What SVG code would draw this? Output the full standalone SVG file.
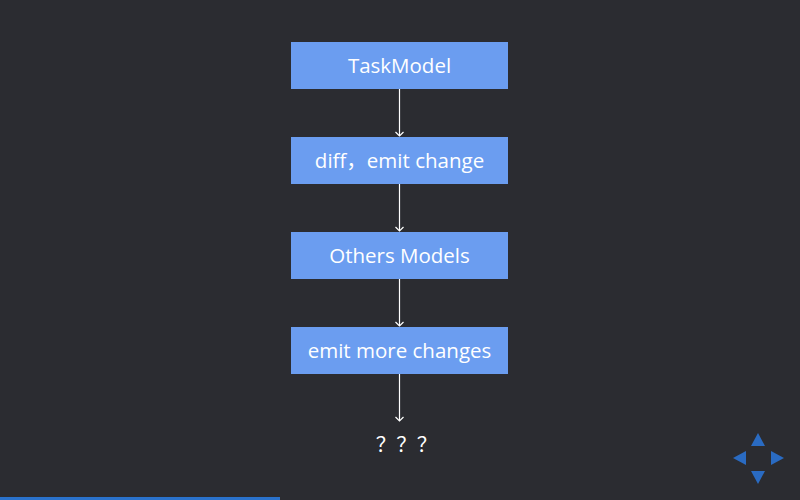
<svg xmlns="http://www.w3.org/2000/svg" width="800" height="500" viewBox="0 0 800 500">
<defs>
<style>
.box{fill:#6b9df0;}
.lbl{font-family:"Open Sans","Noto Sans CJK SC",sans-serif;font-size:20.5px;fill:#ffffff;text-anchor:middle;}
.edge{stroke:#ffffff;stroke-width:1.2;fill:none;}
.ctrl{fill:#2a6bc2;}
</style>
<marker id="arr" markerWidth="10" markerHeight="10" refX="9" refY="5" orient="auto" markerUnits="userSpaceOnUse" viewBox="0 0 10 10">
<path d="M5,1 L9,5 L5,9" fill="none" stroke="#ffffff" stroke-width="1.2"/>
</marker>
</defs>
<rect width="800" height="500" fill="#2b2c31"/>
<g id="n1"><rect class="box" x="291" y="42" width="217" height="47"/><text class="lbl" x="399.5" y="72.5">TaskModel</text></g>
<g id="n2"><rect class="box" x="291" y="137" width="217" height="47"/><text class="lbl" x="399.5" y="167.5">diff，emit change</text></g>
<g id="n3"><rect class="box" x="291" y="232" width="217" height="47"/><text class="lbl" x="399.5" y="262.5">Others Models</text></g>
<g id="n4"><rect class="box" x="291" y="327" width="217" height="47"/><text class="lbl" x="399.5" y="357.5">emit more changes</text></g>
<g id="n5"><text class="lbl" x="406.5" y="452">？？？</text></g>
<g id="edges">
<line class="edge" x1="399.5" y1="89" x2="399.5" y2="136" marker-end="url(#arr)"/>
<line class="edge" x1="399.5" y1="184" x2="399.5" y2="231" marker-end="url(#arr)"/>
<line class="edge" x1="399.5" y1="279" x2="399.5" y2="326" marker-end="url(#arr)"/>
<line class="edge" x1="399.5" y1="374" x2="399.5" y2="421" marker-end="url(#arr)"/>
</g>
<g id="controls">
<polygon class="ctrl" points="758,433 765,446 751,446"/>
<polygon class="ctrl" points="733,458 746,451 746,465"/>
<polygon class="ctrl" points="784,458 771,451 771,465"/>
<polygon class="ctrl" points="758,484 751,471 765,471"/>
</g>
<rect x="0" y="497" width="280" height="3" fill="#2a72cc"/>
</svg>
